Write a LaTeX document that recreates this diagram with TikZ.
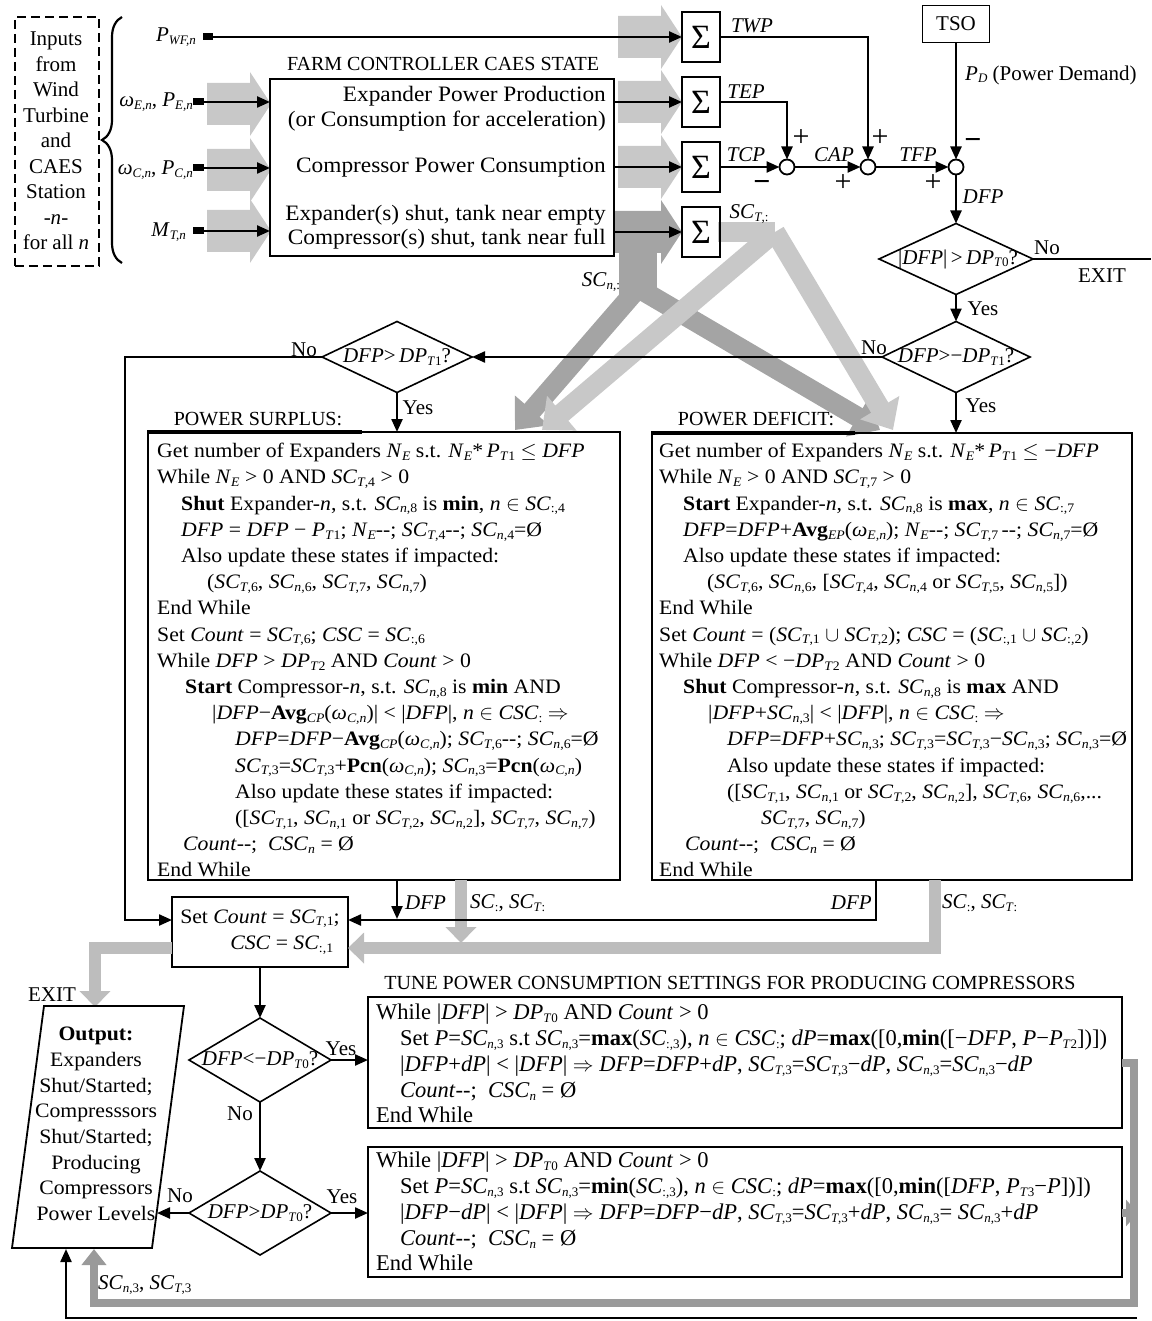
\documentclass[tikz,border=0pt]{standalone}
\usepackage{fontspec}
\setmainfont{Liberation Serif}
\newfontfamily\bodyf[FakeStretch=1.06]{Liberation Serif}
\newfontfamily\condf{Liberation Serif}
\usetikzlibrary{arrows.meta,shapes.geometric,decorations.pathreplacing}
\definecolor{lg}{HTML}{C8C8C8}
\definecolor{dg}{HTML}{A4A4A4}
\definecolor{mg}{HTML}{BDBDBD}
\definecolor{bg}{HTML}{9A9A9A}
\newcommand{\It}[1]{\textit{#1}}
\newcommand{\Sb}[1]{\raisebox{-0.3ex}{\fontsize{13}{13}\selectfont #1}}
\newcommand{\SCT}[1]{\textit{SC}\Sb{\textit{T},#1}}
\newcommand{\SCN}[1]{\textit{SC}\Sb{\textit{n},#1}}
\newcommand{\SCC}[1]{\textit{SC}\Sb{:,#1}}
\newcommand{\DFPx}{\textit{DFP}}
\newcommand{\PTx}[1]{\textit{P}\Sb{\textit{T}#1}}
\newcommand{\DPTx}[1]{\textit{DP}\Sb{\textit{T}#1}}
\newcommand{\NEx}{\textit{N}\Sb{\textit{E}}}
\newcommand{\Cnt}{\textit{Count}}
\newcommand{\CSCx}{\textit{CSC}}
\newcommand{\omC}{\textit{ω}\Sb{\textit{C,n}}}
\newcommand{\omE}{\textit{ω}\Sb{\textit{E,n}}}
\newcommand{\myin}{\ensuremath{\in}}
\newcommand{\myimp}{\ensuremath{\Rightarrow}}
\newcommand{\mycup}{\ensuremath{\cup}}
\newcommand{\myleq}{\ensuremath{\leq}}
\begin{document}
\begin{tikzpicture}[x=1pt,y=-1pt,
 ln/.style={line width=2.3pt},
 ar/.style={line width=2.3pt,-{Triangle[length=13pt,width=11pt]}},
 bx/.style={draw,line width=1.8pt,inner sep=0pt,outer sep=0pt},
 sig/.style={bx,minimum width=38pt,minimum height=50pt,font=\fontsize{34}{34}\selectfont},
 dia/.style={draw,diamond,line width=1.6pt,inner sep=0pt,outer sep=0pt},
 sumc/.style={draw,circle,line width=1.8pt,minimum size=15pt,inner sep=0pt,outer sep=0pt},
 lb/.style={inner sep=0pt,font=\fontsize{21}{25}\selectfont},
 tl/.style={inner sep=0pt,font=\fontsize{20}{24}\selectfont},
 pm/.style={inner sep=0pt,font=\fontsize{30}{30}\selectfont},
 txt/.style={inner sep=0pt,align=left,font=\bodyf\fontsize{20.5}{26.2}\selectfont},
 ctxt/.style={inner sep=0pt,align=left,font=\condf\fontsize{22.5}{25.75}\selectfont},
 fat/.style={line width=20pt,line join=round},
 gth/.style={mg,line width=12pt,-{Triangle[length=16pt,width=30pt]}},
]
\useasboundingbox (0,0) rectangle (1151,1321);

% ---------- inputs ----------
\node[draw,dash pattern=on 9pt off 5pt,line width=1.6pt,minimum width=84pt,minimum height=249pt,anchor=north west,inner sep=0pt] (inbox) at (14,16) {};
\node[lb,align=center,font=\fontsize{21}{25.5}\selectfont] (intext) at (56,141) {Inputs\\from\\Wind\\Turbine\\and\\CAES\\Station\\-\It{n}-\\for all \It{n}};
\draw[decorate,decoration={brace,amplitude=20pt},line width=2.2pt] (122,263) -- (122,17);

\foreach \cy in {104,170,231}
  \fill[lg] (207,\cy-21) -- (250,\cy-21) -- (250,\cy-32) -- (271,\cy) -- (250,\cy+32) -- (250,\cy+21) -- (207,\cy+21) -- cycle;
\foreach \cy in {37,102,167}
  \fill[lg] (618,\cy-21) -- (661,\cy-21) -- (661,\cy-32) -- (682,\cy) -- (661,\cy+32) -- (661,\cy+21) -- (618,\cy+21) -- cycle;
\fill[dg] (614,211) -- (661,211) -- (661,200) -- (682,232) -- (661,264) -- (661,253) -- (614,253) -- cycle;
\fill[dg] (619,250) rectangle (657,300);

% diagonal state flows
\draw[dg,fat,-{Triangle[length=26pt,width=44pt]}] (638,288) -- (515,430);
\draw[dg,fat,-{Triangle[length=26pt,width=44pt]}] (638,288) -- (880,430);
\draw[lg,fat] (718,232) -- (775,232);
\draw[lg,fat,-{Triangle[length=26pt,width=44pt]}] (775,232) -- (542,430);
\draw[lg,fat,-{Triangle[length=26pt,width=44pt]}] (775,232) -- (893,430);

\node[lb,anchor=east] (lpwf) at (196,37) {\It{P}\Sb{\It{WF,n}}};
\node[lb,anchor=east] (lome) at (193,102) {\omE, \It{P}\Sb{\It{E,n}}};
\node[lb,anchor=east] (lomc) at (193,170) {\omC, \It{P}\Sb{\It{C,n}}};
\node[lb,anchor=east] (lmt) at (186,232) {\It{M}\Sb{\It{T,n}}};

% farm controller
\node[bx,anchor=north west,minimum width=344pt,minimum height=177pt] (farm) at (270,79) {};
\node[tl] (farmtitle) at (443,64) {FARM CONTROLLER CAES STATE};
\node[inner sep=0pt,font=\bodyf\fontsize{22}{25}\selectfont,anchor=east] (f1) at (606,96) {Expander Power Production};
\node[inner sep=0pt,font=\bodyf\fontsize{22}{25}\selectfont,anchor=east] (f2) at (606,121) {(or Consumption for acceleration)};
\node[inner sep=0pt,font=\bodyf\fontsize{22}{25}\selectfont,anchor=east] (f3) at (606,168) {Compressor Power Consumption};
\node[inner sep=0pt,font=\bodyf\fontsize{22}{25}\selectfont,anchor=east] (f4) at (606,215) {Expander(s) shut, tank near empty};
\node[inner sep=0pt,font=\bodyf\fontsize{22}{25}\selectfont,anchor=east] (f5) at (606,239) {Compressor(s) shut, tank near full};

\coordinate (e1) at (203,102);
\coordinate (e2) at (203,168);
\coordinate (e3) at (203,231);
\coordinate (pwf) at (212,37);
\fill (193,98.5) rectangle (204,105.5);
\fill (193,164.5) rectangle (204,171.5);
\fill (193,227.5) rectangle (204,234.5);
\fill (203,33.5) rectangle (213,40.5);
\draw[ar] (e1) -- (e1 -| farm.west);
\draw[ar] (e2) -- (e2 -| farm.west);
\draw[ar] (e3) -- (e3 -| farm.west);

% sums
\node[sig] (s1) at (701,37) {Σ};
\node[sig] (s2) at (701,102) {Σ};
\node[sig] (s3) at (701,167) {Σ};
\node[sig] (s4) at (701,232) {Σ};
\draw[ar] (pwf) -- (s1.west);
\draw[ar] (farm.east |- s2) -- (s2.west);
\draw[ar] (farm.east |- s3) -- (s3.west);
\draw[ar] (farm.east |- s4) -- (s4.west);

\node[sumc] (c1) at (787,167) {};
\node[sumc] (c2) at (868,167) {};
\node[sumc] (c3) at (956,167) {};
\node[bx,minimum width=67pt,minimum height=37pt,font=\fontsize{21}{25}\selectfont] (tso) at (956,24) {TSO};

\draw[ar] (s1.east) -| (c2.north);
\draw[ar] (s2.east) -| (c1.north);
\draw[ar] (s3.east) -- (c1.west);
\draw[ar] (c1.east) -- (c2.west);
\draw[ar] (c2.east) -- (c3.west);
\draw[ar] (tso.south) -- (c3.north);

\node[lb] (ltwp) at (752,26) {\It{TWP}};
\node[lb] (ltep) at (746,92) {\It{TEP}};
\node[lb] (ltcp) at (746,155) {\It{TCP}};
\node[lb] (lsct) at (749,214) {\It{SC}\Sb{\It{T},:}};
\node[lb] (lscn) at (601,282) {\It{SC}\Sb{\It{n},:}};
\node[lb] (lcap) at (834,155) {\It{CAP}};
\node[lb] (ltfp) at (918,155) {\It{TFP}};
\node[pm] (p1) at (801,138) {+};
\node[pm,font=\bfseries\fontsize{30}{30}\selectfont] (m1) at (762,186) {−};
\node[pm] (p2) at (843,183) {+};
\node[pm] (p3) at (880,138) {+};
\node[pm] (p4) at (933,183) {+};
\node[pm,font=\bfseries\fontsize{30}{30}\selectfont] (m2) at (973,144) {−};
\node[lb,anchor=west] (lpd) at (965,75) {\It{P}\Sb{\It{D}} (Power Demand)};
\node[lb] (ldfp) at (983,197) {\It{DFP}};

% decisions top
\node[dia,minimum width=154pt,minimum height=71pt] (d1) at (956,259) {};
\node[lb] (d1t) at (958,259) {|\DFPx|\,>\,\DPTx{0}?};
\node[dia,minimum width=148pt,minimum height=71pt] (d2) at (956,357) {};
\node[lb] (d2t) at (956,357) {\DFPx>−\DPTx{1}?};
\node[dia,minimum width=150pt,minimum height=71pt] (d3) at (397,357) {};
\node[lb] (d3t) at (397,357) {\DFPx>\,\DPTx{1}?};
\coordinate (exitR) at (1151,259);
\draw[ar] (c3.south) -- (d1.north);
\draw[ln] (d1.east) -- (exitR);
\draw[ar] (d1.south) -- (d2.north);
\draw[ar] (d2.west) -- (d3.east);
\node[lb] (lno1) at (1047,248) {No};
\node[lb] (lexit1) at (1102,276) {EXIT};
\node[lb] (lyes1) at (983,309) {Yes};
\node[lb] (lno2) at (874,348) {No};
\node[lb] (lyes2) at (981,406) {Yes};
\node[lb] (lno3) at (304,350) {No};
\node[lb] (lyes3) at (418,408) {Yes};

% surplus / deficit boxes
\node[bx,anchor=north west,minimum width=472pt,minimum height=448pt] (sur) at (148,432) {};
\node[bx,anchor=north west,minimum width=480pt,minimum height=447pt] (def) at (652,433) {};
\draw[line width=3.2pt] (147,432) -- (362,432);
\draw[line width=3.2pt] (651,433) -- (855,433);
\node[tl] (lsur) at (258,419) {POWER SURPLUS:};
\node[tl] (ldef) at (756,419) {POWER DEFICIT:};
\draw[ar] (d3.south) -- (d3.south |- sur.north);
\draw[ar] (d2.south) -- (d2.south |- def.north);

\node[txt,anchor=north west] (surt) at (157,443) {%
Get number of Expanders \NEx{} s.t. \NEx*\,\PTx{1} \myleq{} \DFPx\\
While \NEx{} > 0 AND \SCT{4} > 0\\
\hspace*{24pt}\textbf{Shut} Expander-\It{n}, s.t. \SCN{8} is \textbf{min}, \It{n} \myin{} \SCC{4}\\
\hspace*{24pt}\DFPx{} = \DFPx{} − \PTx{1}; \NEx-{}-; \SCT{4}-{}-; \SCN{4}=Ø\\
\hspace*{24pt}Also update these states if impacted:\\
\hspace*{50pt}(\SCT{6}, \SCN{6}, \SCT{7}, \SCN{7})\\
End While\\
Set \Cnt{} = \SCT{6}; \CSCx{} = \SCC{6}\\
While \DFPx{} > \DPTx{2} AND \Cnt{} > 0\\
\hspace*{28pt}\textbf{Start} Compressor-\It{n}, s.t. \SCN{8} is \textbf{min} AND\\
\hspace*{55pt}|\DFPx−\textbf{Avg}\Sb{\It{CP}}(\omC)| < |\DFPx|, \It{n} \myin{} \CSCx\Sb{:} \myimp\\
\hspace*{78pt}\DFPx=\DFPx−\textbf{Avg}\Sb{\It{CP}}(\omC); \SCT{6}-{}-; \SCN{6}=Ø\\
\hspace*{78pt}\SCT{3}=\SCT{3}+\textbf{Pcn}(\omC); \SCN{3}=\textbf{Pcn}(\omC)\\
\hspace*{78pt}Also update these states if impacted:\\
\hspace*{78pt}([\SCT{1}, \SCN{1} or \SCT{2}, \SCN{2}], \SCT{7}, \SCN{7})\\
\hspace*{26pt}\Cnt-{}-;\ \ \CSCx\Sb{\It{n}} = Ø\\
End While};

\node[txt,anchor=north west] (deft) at (659,443) {%
Get number of Expanders \NEx{} s.t. \NEx*\,\PTx{1} \myleq{} −\DFPx\\
While \NEx{} > 0 AND \SCT{7} > 0\\
\hspace*{24pt}\textbf{Start} Expander-\It{n}, s.t. \SCN{8} is \textbf{max}, \It{n} \myin{} \SCC{7}\\
\hspace*{24pt}\DFPx=\DFPx+\textbf{Avg}\Sb{\It{EP}}(\omE); \NEx-{}-; \SCT{7}\,-{}-; \SCN{7}=Ø\\
\hspace*{24pt}Also update these states if impacted:\\
\hspace*{48pt}(\SCT{6}, \SCN{6}, [\SCT{4}, \SCN{4} or \SCT{5}, \SCN{5}])\\
End While\\
Set \Cnt{} = (\SCT{1} \mycup{} \SCT{2}); \CSCx{} = (\SCC{1} \mycup{} \SCC{2})\\
While \DFPx{} < −\DPTx{2} AND \Cnt{} > 0\\
\hspace*{24pt}\textbf{Shut} Compressor-\It{n}, s.t. \SCN{8} is \textbf{max} AND\\
\hspace*{49pt}|\DFPx+\SCN{3}| < |\DFPx|, \It{n} \myin{} \CSCx\Sb{:} \myimp\\
\hspace*{68pt}\DFPx=\DFPx+\SCN{3}; \SCT{3}=\SCT{3}−\SCN{3}; \SCN{3}=Ø\\
\hspace*{68pt}Also update these states if impacted:\\
\hspace*{68pt}([\SCT{1}, \SCN{1} or \SCT{2}, \SCN{2}], \SCT{6}, \SCN{6},...\\
\hspace*{102pt}\SCT{7}, \SCN{7})\\
\hspace*{26pt}\Cnt-{}-;\ \ \CSCx\Sb{\It{n}} = Ø\\
End While};

% set count
\node[bx,minimum width=176pt,minimum height=70pt,align=left,font=\bodyf\fontsize{20.5}{26.5}\selectfont] (setc) at (260,932) {Set \Cnt{} = \SCT{1};\\\hspace*{50pt}\CSCx{} = \SCC{1}};

% gray flows below boxes
\coordinate (gs1) at (461,880);
\coordinate (gs2) at (461,943);
\coordinate (gd1) at (935,880);
\coordinate (gd2) at (935,948);
\coordinate (ge2) at (95,948);
\coordinate (outT) at (95,1007);
\draw[gth] (gs1) -- (gs2);
\draw[gth] (gd1) -- (gd2) -- (gd2 -| setc.east);
\draw[gth] (ge2 -| setc.west) -- (ge2) -- (outT);

% black flows below boxes
\coordinate (jL) at (397,919);
\coordinate (dr1) at (876,880);
\coordinate (dr2) at (876,920);
\coordinate (nl1) at (125,357);
\coordinate (nl2) at (125,920);
\draw[ar] (d3.south |- sur.south) -- (jL);
\draw[ar] (dr1) -- (dr2) -- (dr2 -| setc.east);
\draw[ar] (d3.west) -- (nl1) -- (nl2) -- (nl2 -| setc.west);
\node[lb,anchor=west] (ldfp2) at (405,903) {\It{DFP}};
\node[lb,anchor=west] (lsc2) at (470,903) {\It{SC}\Sb{:}, \It{SC}\Sb{\It{T}:}};
\node[lb,anchor=east] (ldfp3) at (872,903) {\It{DFP}};
\node[lb,anchor=west] (lsc3) at (942,903) {\It{SC}\Sb{:}, \It{SC}\Sb{\It{T}:}};

% output
\draw[line width=1.8pt] (44,1006) -- (184,1006) -- (152,1248) -- (12,1248) -- cycle;
\node[inner sep=0pt,align=center,font=\bodyf\fontsize{20.5}{25.7}\selectfont] (outtext) at (96,1124) {\textbf{Output:}\\Expanders\\Shut/Started;\\Compresssors\\Shut/Started;\\Producing\\Compressors\\Power Levels};
\node[lb] (lexit2) at (52,995) {EXIT};

% lower decisions
\node[dia,minimum width=142pt,minimum height=84pt] (d4) at (260,1060) {};
\node[lb] (d4t) at (260,1060) {\DFPx<−\DPTx{0}?};
\node[dia,minimum width=142pt,minimum height=84pt] (d5) at (260,1213) {};
\node[lb] (d5t) at (260,1213) {\DFPx>\DPTx{0}?};

\node[bx,anchor=north west,minimum width=754pt,minimum height=131pt] (tb1) at (368,997) {};
\node[bx,anchor=north west,minimum width=754pt,minimum height=130pt] (tb2) at (368,1147) {};
\node[tl] (ltune) at (730,983) {TUNE POWER CONSUMPTION SETTINGS FOR PRODUCING COMPRESSORS};

\node[ctxt,anchor=north west] (tb1t) at (376,1004) {%
While |\DFPx| > \DPTx{0} AND \Cnt{} > 0\\
\hspace*{24pt}Set \It{P}=\SCN{3} s.t \SCN{3}=\textbf{max}(\SCC{3}), \It{n} \myin{} \CSCx\Sb{:}; \It{dP}=\textbf{max}([0,\textbf{min}([−\DFPx, \It{P}−\PTx{2}])])\\
\hspace*{24pt}|\DFPx+\It{dP}| < |\DFPx| \myimp{} \DFPx=\DFPx+\It{dP}, \SCT{3}=\SCT{3}−\It{dP}, \SCN{3}=\SCN{3}−\It{dP}\\
\hspace*{24pt}\Cnt-{}-;\ \ \CSCx\Sb{\It{n}} = Ø\\
End While};
\node[ctxt,anchor=north west] (tb2t) at (376,1152) {%
While |\DFPx| > \DPTx{0} AND \Cnt{} > 0\\
\hspace*{24pt}Set \It{P}=\SCN{3} s.t \SCN{3}=\textbf{min}(\SCC{3}), \It{n} \myin{} \CSCx\Sb{:}; \It{dP}=\textbf{max}([0,\textbf{min}([\DFPx, \PTx{3}−\It{P}])])\\
\hspace*{24pt}|\DFPx−\It{dP}| < |\DFPx| \myimp{} \DFPx=\DFPx−\It{dP}, \SCT{3}=\SCT{3}+\It{dP}, \SCN{3}= \SCN{3}+\It{dP}\\
\hspace*{24pt}\Cnt-{}-;\ \ \CSCx\Sb{\It{n}} = Ø\\
End While};

\coordinate (outR) at (157,1213);
\draw[ar] (setc.south) -- (d4.north);
\draw[ar] (d4.east) -- (d4.east -| tb1.west);
\draw[ar] (d4.south) -- (d5.north);
\draw[ar] (d5.east) -- (d5.east -| tb2.west);
\draw[ar] (d5.west) -- (outR);
\node[lb] (lyes4) at (341,1049) {Yes};
\node[lb] (lno4) at (240,1114) {No};
\node[lb] (lno5) at (180,1196) {No};
\node[lb] (lyes5) at (342,1197) {Yes};

% bottom loops
\coordinate (gl1) at (1134,1063);
\coordinate (gl2) at (1134,1303);
\coordinate (gl3) at (94,1303);
\coordinate (outB1) at (94,1249);
\coordinate (gl4) at (1138,1213);
\draw[bg,line width=8pt,-{Triangle[length=16pt,width=24pt]}] (gl1 -| tb1.east) -- (gl1) -- (gl2) -- (gl3) -- (outB1);
\draw[bg,line width=8pt,-{Triangle[length=12pt,width=26pt]}] (gl4 -| tb2.east) -- (gl4);
\coordinate (bb1) at (1137,1318);
\coordinate (bb2) at (66,1318);
\coordinate (outB2) at (66,1249);
\draw[ar] (bb1) -- (bb2) -- (outB2);
\node[lb,anchor=west] (lscb) at (98,1285) {\SCN{3}, \SCT{3}};
\end{tikzpicture}
\end{document}
